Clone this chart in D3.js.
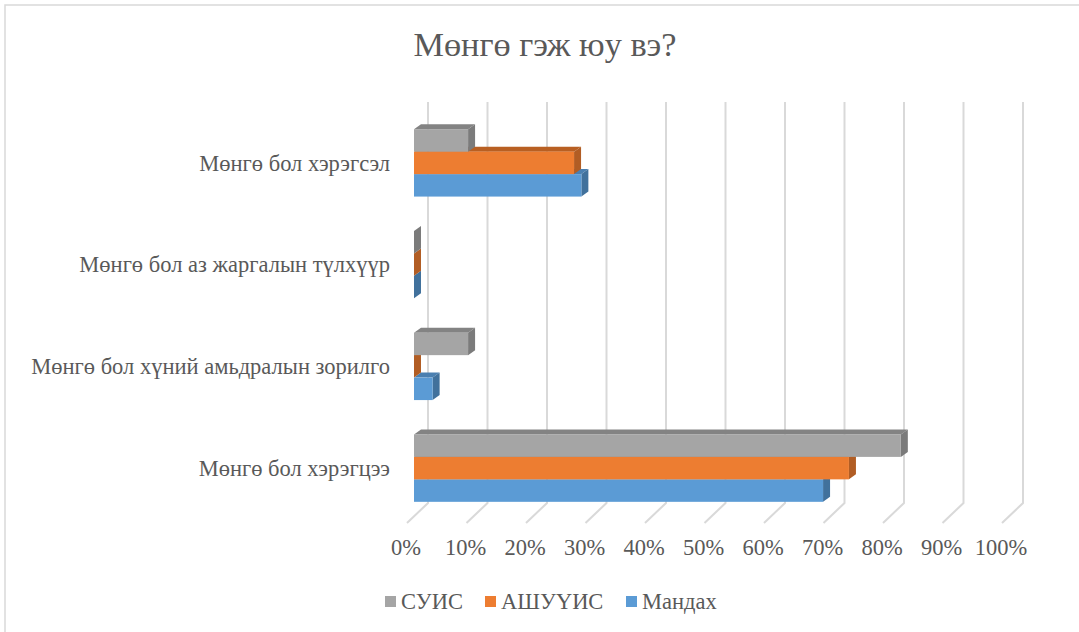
<!DOCTYPE html>
<html>
<head>
<meta charset="utf-8">
<script src="https://cdn.jsdelivr.net/npm/d3@7"></script>
<style>
  body { margin: 0; background: #fff; }
  text { font-family: "Liberation Serif", "Times New Roman", serif; fill: #595959; }
</style>
</head>
<body>
<div id="chart"></div>
<script>
// data (percent)
var categories = ["Мөнгө бол хэрэгсэл", "Мөнгө бол аз жаргалын түлхүүр",
                  "Мөнгө бол хүний амьдралын зорилго", "Мөнгө бол хэрэгцээ"];
var seriesNames = ["СУИС", "АШУҮИС", "Мандах"];
var suis = [9.09, 0, 9.09, 81.82];
var ashuuis = [26.9, 0, 0, 73.1];
var mandakh = [28.13, 0, 3.13, 68.75];
var ticks = [0, 10, 20, 30, 40, 50, 60, 70, 80, 90, 100];

var colors = {
  "СУИС":   {front: "#a5a5a5", side: "#7b7b7b", top: "#838383"},
  "АШУҮИС": {front: "#ed7d31", side: "#b15d24", top: "#b85f22"},
  "Мандах": {front: "#5b9bd5", side: "#41719c", top: "#4a7fb0"}
};
var values = {"СУИС": suis, "АШУҮИС": ashuuis, "Мандах": mandakh};

var W = 1079, H = 632;
var svg = d3.select("#chart").append("svg")
    .attr("width", W)
    .attr("height", H);

// outer border (only top/left visible in the crop)
svg.append("rect")
    .attr("x", 5).attr("y", 5)
    .attr("width", 1200).attr("height", 800)
    .attr("fill", "none")
    .attr("stroke", "#d9d9d9")
    .attr("stroke-width", 1.5);

// title
svg.append("text")
    .attr("x", 545).attr("y", 56)
    .attr("text-anchor", "middle")
    .style("font-size", "34.3px")
    .text("Мөнгө гэж юу вэ?");

// scales
var xScale = d3.scaleLinear().domain([0, 100]).range([0, 595]);
var backX = 428, barX = 414, floorX = 406;  // depth planes
var floorDepth = {dx: 21, dy: -20};
var barDepth = {dx: 7, dy: -5};
var plotTop = 102, plotBottom = 503;

var yScale = d3.scaleBand().domain(categories).range([112, 519]);
var groupH = 67.4;

// gridlines (back wall + floor diagonal)
var grid = svg.append("g").attr("class", "grid");
ticks.forEach(function(t) {
  var x = backX + xScale(t);
  grid.append("path")
      .attr("d", "M" + x + "," + plotTop + "V" + plotBottom +
                 "L" + (x - floorDepth.dx) + "," + (plotBottom - floorDepth.dy))
      .attr("fill", "none")
      .attr("stroke", "#d9d9d9")
      .attr("stroke-width", 2);
});

// x tick labels
svg.append("g").selectAll("text")
    .data(ticks)
  .enter().append("text")
    .attr("x", function(d) { return floorX + xScale(d); })
    .attr("y", 555)
    .attr("text-anchor", "middle")
    .style("font-size", "22.5px")
    .text(function(d) { return d + "%"; });

// category labels
svg.append("g").selectAll("text")
    .data(categories)
  .enter().append("text")
    .attr("x", 390)
    .attr("y", function(d) { return yScale(d) + yScale.bandwidth() / 2; })
    .attr("dy", "0.34em")
    .attr("text-anchor", "end")
    .style("font-size", "22.5px")
    .text(function(d) { return d; });

// draw 3D bars: bottom series first so upper front faces cover their tops
var drawOrder = ["Мандах", "АШУҮИС", "СУИС"];
var bars = svg.append("g").attr("class", "bars");

categories.forEach(function(cat, ci) {
  var c = yScale(cat) + yScale.bandwidth() / 2;
  var inner = d3.scaleBand().domain(seriesNames).range([c - groupH / 2, c + groupH / 2]);
  drawOrder.forEach(function(s) {
    var v = values[s][ci];
    var x0 = barX, x1 = barX + xScale(v);
    var y0 = inner(s), y1 = y0 + inner.bandwidth();
    var dx = barDepth.dx, dy = barDepth.dy;
    var col = colors[s];
    var g = bars.append("g");
    // top face
    g.append("path")
        .attr("d", "M" + x0 + "," + y0 + "L" + (x0 + dx) + "," + (y0 + dy) +
                   "L" + (x1 + dx) + "," + (y0 + dy) + "L" + x1 + "," + y0 + "Z")
        .attr("fill", col.top);
    // right face
    g.append("path")
        .attr("d", "M" + x1 + "," + y0 + "L" + (x1 + dx) + "," + (y0 + dy) +
                   "L" + (x1 + dx) + "," + (y1 + dy) + "L" + x1 + "," + y1 + "Z")
        .attr("fill", col.side);
    // front face
    g.append("rect")
        .attr("x", x0).attr("y", y0)
        .attr("width", x1 - x0).attr("height", y1 - y0)
        .attr("fill", col.front);
  });
});

// legend
var legendX = [385, 485, 626];
var legend = svg.append("g").attr("class", "legend");
seriesNames.forEach(function(s, i) {
  legend.append("rect")
      .attr("x", legendX[i]).attr("y", 596)
      .attr("width", 11).attr("height", 11)
      .attr("fill", colors[s].front);
  legend.append("text")
      .attr("x", legendX[i] + 16).attr("y", 609)
      .style("font-size", "22.5px")
      .text(s);
});
</script>
</body>
</html>
